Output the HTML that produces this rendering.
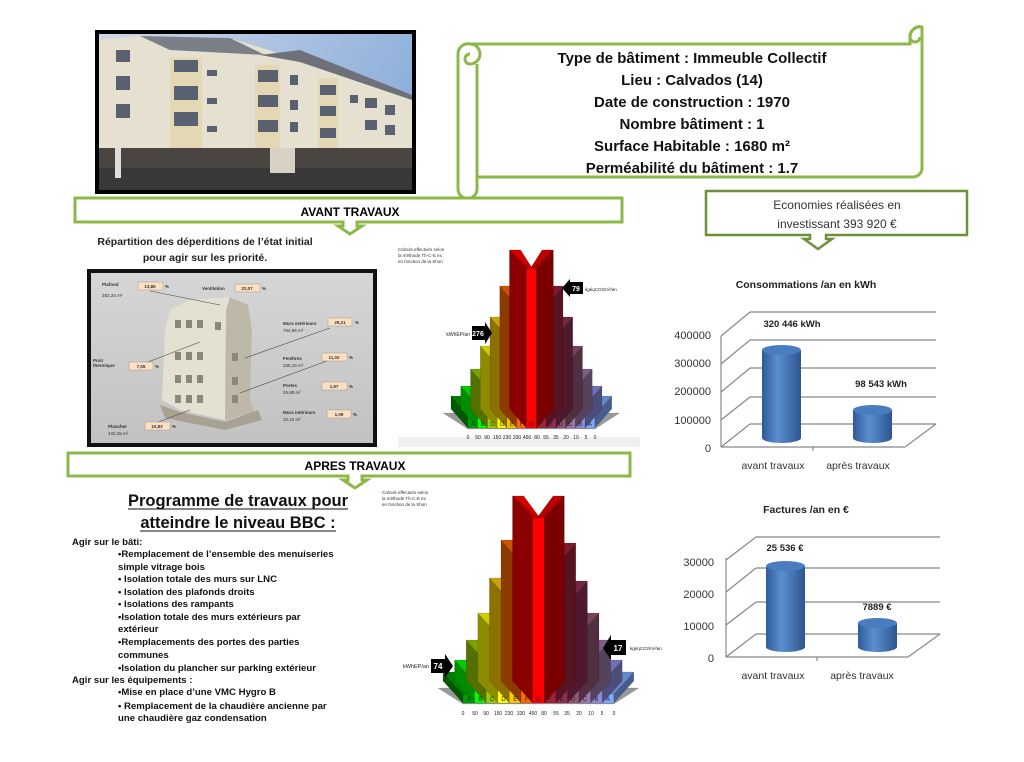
<!DOCTYPE html>
<html><head><meta charset="utf-8">
<style>
html,body{margin:0;padding:0;background:#fff;width:1024px;height:762px;overflow:hidden}
svg{display:block}
text{font-family:"Liberation Sans",sans-serif}
.b{font-weight:bold}
.list{font-family:"Liberation Sans",sans-serif;font-weight:bold;font-size:9.6px;fill:#111}
</style></head>
<body>
<svg id="s" width="1024" height="762" viewBox="0 0 1024 762" xmlns="http://www.w3.org/2000/svg">
<defs>
<linearGradient id="sky" x1="0" y1="0" x2="1" y2="0.3">
<stop offset="0" stop-color="#cfd8e6"/><stop offset="1" stop-color="#8fb0dc"/></linearGradient>
<linearGradient id="cyl" x1="0" y1="0" x2="1" y2="0">
<stop offset="0" stop-color="#2f5a98"/><stop offset="0.4" stop-color="#5b8fd0"/><stop offset="1" stop-color="#2d5590"/></linearGradient>
<linearGradient id="gr" x1="0" y1="0" x2="0" y2="1">
<stop offset="0" stop-color="#d6d6d6"/><stop offset="1" stop-color="#c2c2c2"/></linearGradient>
</defs>

<!-- Photo -->
<rect x="95" y="30" width="321" height="164" fill="#000"/>
<rect x="99" y="34" width="313" height="156" fill="url(#sky)"/>
<polygon points="99,40 140,36 230,38 300,60 412,95 412,170 99,170" fill="#e6e0d0"/>
<polygon points="140,36 230,38 265,55 170,50" fill="#7b7f88"/>
<polygon points="260,55 300,50 412,95 412,100 300,62" fill="#6e717a"/>
<rect x="170" y="58" width="32" height="110" fill="#e4d8b4"/>
<rect x="255" y="65" width="25" height="100" fill="#e4d8b4"/>
<rect x="318" y="78" width="20" height="85" fill="#e4d8b4"/>
<g fill="#5a6170">
<rect x="116" y="50" width="14" height="12"/><rect x="116" y="76" width="14" height="14"/><rect x="116" y="104" width="14" height="14"/>
<rect x="174" y="60" width="24" height="12"/><rect x="174" y="86" width="24" height="14"/><rect x="174" y="112" width="24" height="14"/>
<rect x="207" y="70" width="10" height="6"/><rect x="207" y="98" width="10" height="6"/><rect x="207" y="126" width="10" height="6"/>
<rect x="258" y="70" width="20" height="12"/><rect x="258" y="95" width="20" height="12"/><rect x="258" y="120" width="20" height="12"/>
<rect x="290" y="75" width="8" height="10"/><rect x="290" y="100" width="8" height="10"/><rect x="290" y="122" width="8" height="10"/>
<rect x="320" y="85" width="16" height="10"/><rect x="320" y="106" width="16" height="10"/><rect x="320" y="128" width="16" height="10"/>
<rect x="350" y="95" width="8" height="8"/><rect x="365" y="98" width="12" height="10"/><rect x="385" y="105" width="10" height="10"/><rect x="365" y="120" width="12" height="10"/><rect x="385" y="125" width="10" height="10"/>
</g>
<rect x="99" y="148" width="313" height="22" fill="#4a4540"/>
<rect x="99" y="168" width="313" height="22" fill="#38383a"/>
<rect x="115" y="148" width="6" height="30" fill="#ddd"/><rect x="270" y="148" width="25" height="25" fill="#d8d2c4"/>

<!-- Scroll -->
<path d="M470,44 H910 V37 a10,10 0 0 1 12,-10 V168 a9,9 0 0 1 -9,9 H477 V189 a9,9 0 0 1 -19,0 V54 a10,10 0 0 1 12,-10 Z" fill="#fff" stroke="#8cb84a" stroke-width="3"/>
<path d="M470,44 a10,10 0 0 1 0,20 a5,5 0 0 1 0,-10" fill="none" stroke="#8cb84a" stroke-width="3"/>
<path d="M477,64 V177" fill="none" stroke="#8cb84a" stroke-width="3"/>
<path d="M922,27 a10,10 0 0 0 -12,10 M910,37 a5,5 0 0 0 5,5 a5,5 0 0 0 5,-5" fill="none" stroke="#8cb84a" stroke-width="3"/>
<g class="b" font-size="15" text-anchor="middle" fill="#111">
<text x="692" y="63">Type de bâtiment : Immeuble Collectif</text>
<text x="692" y="85">Lieu : Calvados (14)</text>
<text x="692" y="107">Date de construction : 1970</text>
<text x="692" y="129">Nombre bâtiment : 1</text>
<text x="692" y="151">Surface Habitable :  1680 m²</text>
<text x="692" y="173">Perméabilité du bâtiment : 1.7</text>
</g>

<!-- AVANT banner -->
<path d="M75,198 H622 V222 H357 L357,226 L362,226 L350,234 L338,226 L343,226 L343,222 H75 Z" fill="#fff" stroke="#8cb84a" stroke-width="3"/>
<text x="350" y="216" class="b" font-size="12" text-anchor="middle">AVANT TRAVAUX</text>

<!-- Economies box -->
<path d="M706,191 H967 V235 H826 L826,239 L832,239 L818,249 L804,239 L810,239 L810,235 H706 Z" fill="#fff" stroke="#6f8f3a" stroke-width="2.5"/>
<text x="837" y="209" font-size="12" text-anchor="middle" fill="#333">Economies réalisées en</text>
<text x="837" y="228" font-size="12" text-anchor="middle" fill="#333">investissant 393 920 €</text>

<text x="205" y="245" class="b" font-size="10.5" text-anchor="middle" fill="#222">Répartition des déperditions de l’état initial</text>
<text x="205" y="261" class="b" font-size="10.5" text-anchor="middle" fill="#222">pour  agir sur les priorité.</text>

<!-- Thermal image -->
<rect x="87" y="269" width="290" height="178" fill="#111"/>
<rect x="91" y="273" width="282" height="170" fill="url(#gr)"/>
<polygon points="170,310 190,300 230,297 248,305 252,330 250,400 255,412 225,420 180,410 162,400 165,330" fill="#e4e0d2"/>
<polygon points="230,297 248,305 252,330 250,400 255,412 225,420 226,310" fill="#bdb8a8"/>
<polygon points="160,405 180,412 225,422 258,410 262,420 225,430 165,418" fill="#a8a294"/>
<g fill="#8a8878">
<rect x="175" y="320" width="6" height="8"/><rect x="186" y="320" width="6" height="8"/><rect x="197" y="320" width="6" height="8"/><rect x="215" y="322" width="6" height="8"/>
<rect x="175" y="352" width="6" height="8"/><rect x="186" y="352" width="6" height="8"/><rect x="197" y="352" width="6" height="8"/><rect x="232" y="353" width="6" height="8"/>
<rect x="175" y="375" width="6" height="8"/><rect x="186" y="375" width="6" height="8"/><rect x="197" y="375" width="6" height="8"/><rect x="232" y="377" width="6" height="8"/>
<rect x="175" y="395" width="6" height="8"/><rect x="186" y="395" width="6" height="8"/><rect x="197" y="395" width="6" height="8"/><rect x="232" y="395" width="6" height="8"/>
</g>
<g stroke="#444" stroke-width="0.6">
<line x1="150" y1="291" x2="220" y2="305"/><line x1="135" y1="367" x2="200" y2="342"/>
<line x1="330" y1="328" x2="245" y2="358"/><line x1="335" y1="358" x2="240" y2="393"/>
<line x1="145" y1="427" x2="190" y2="410"/>
</g>
<g font-size="4.5" fill="#333">
<text x="102" y="286" class="b">Plafond</text><text x="102" y="297">382,34 m²</text>
<text x="202" y="290" class="b">Ventilation</text>
<text x="283" y="325" class="b">Murs extérieurs</text><text x="283" y="332">764,96 m²</text>
<text x="93" y="362" class="b">Pont</text><text x="93" y="367" class="b">thermique</text>
<text x="283" y="360" class="b">Fenêtres</text><text x="283" y="367">258,10 m²</text>
<text x="283" y="387" class="b">Portes</text><text x="283" y="394">26,88 m²</text>
<text x="283" y="414" class="b">Murs intérieurs</text><text x="283" y="421">32,16 m²</text>
<text x="108" y="428" class="b">Plancher</text><text x="108" y="435">432,25 m²</text>
</g>
<g fill="#fde0c0" stroke="#999" stroke-width="0.5">
<rect x="138" y="282" width="25" height="8"/><rect x="235" y="284" width="25" height="8"/>
<rect x="328" y="318" width="24" height="8"/><rect x="129" y="362" width="24" height="8"/>
<rect x="322" y="353" width="25" height="8"/><rect x="322" y="382" width="25" height="8"/>
<rect x="327" y="410" width="24" height="8"/><rect x="145" y="422" width="25" height="8"/>
</g>
<g font-size="4.5" fill="#333" text-anchor="middle" class="b">
<text x="150" y="288">13,86</text><text x="247" y="290">22,07</text><text x="340" y="324">29,21</text>
<text x="141" y="368">7,55</text><text x="334" y="359">11,02</text><text x="334" y="388">1,87</text>
<text x="339" y="416">1,09</text><text x="157" y="428">10,83</text>
<text x="167" y="288">%</text><text x="264" y="290">%</text><text x="357" y="324">%</text><text x="157" y="368">%</text>
<text x="351" y="359">%</text><text x="351" y="388">%</text><text x="355" y="416">%</text><text x="174" y="428">%</text>
</g>

<!-- Pyramid areas -->
<rect x="398" y="437" width="242" height="10" fill="#efefef"/>
<g id="p1"></g>
<g id="p2"></g>
<g font-size="4.5" fill="#333">
<text x="398" y="251">Calculs effectués selon</text><text x="398" y="257">la méthode Th-C-E ex</text><text x="398" y="263">en fonction de la Shon</text>
<text x="382" y="494">Calculs effectués selon</text><text x="382" y="500">la méthode Th-C-E ex</text><text x="382" y="506">en fonction de la Shon</text>
</g>
<g font-size="5" fill="#222" text-anchor="middle">
<text x="468" y="439">0</text><text x="478" y="439">50</text><text x="487" y="439">90</text><text x="497" y="439">150</text><text x="507" y="439">230</text><text x="517" y="439">330</text><text x="527" y="439">450</text><text x="537" y="439">80</text><text x="546" y="439">55</text><text x="556" y="439">35</text><text x="566" y="439">20</text><text x="576" y="439">10</text><text x="586" y="439">5</text><text x="595" y="439">0</text>
</g>
<g font-size="5" fill="#222" text-anchor="middle">
<text x="463" y="715">0</text><text x="475" y="715">50</text><text x="486" y="715">90</text><text x="498" y="715">150</text><text x="509" y="715">230</text><text x="521" y="715">330</text><text x="533" y="715">450</text><text x="544" y="715">80</text><text x="556" y="715">55</text><text x="567" y="715">35</text><text x="579" y="715">20</text><text x="591" y="715">10</text><text x="602" y="715">5</text><text x="614" y="715">0</text>
</g>
<g id="letters" font-size="6" fill="#222" text-anchor="middle"></g>

<!-- arrows pyramid 1 -->
<polygon points="472,326 485,326 485,322 492,333 485,344 485,340 472,340" fill="#000"/>
<text x="478" y="336" font-size="7" class="b" fill="#fff" text-anchor="middle">276</text>
<text x="470" y="336" font-size="5" text-anchor="end" fill="#222">kWhEP/an</text>
<polygon points="570,282 570,279 562,288 570,297 570,294 583,294 583,282" fill="#000"/>
<text x="576" y="291" font-size="7" class="b" fill="#fff" text-anchor="middle">79</text>
<text x="585" y="291" font-size="4.5" fill="#222">kgéqCO2/m²/an</text>
<!-- arrows pyramid 2 -->
<polygon points="431,659 445,659 445,654 453,666 445,678 445,673 431,673" fill="#000"/>
<text x="438" y="669" font-size="8" class="b" fill="#fff" text-anchor="middle">74</text>
<text x="429" y="668" font-size="5.5" text-anchor="end" fill="#222">kWhEP/an</text>
<polygon points="611,640 611,635 603,648 611,660 611,655 626,655 626,640" fill="#000"/>
<text x="618" y="651" font-size="8" class="b" fill="#fff" text-anchor="middle">17</text>
<text x="630" y="650" font-size="4.5" fill="#222">kgéqCO2/m²/an</text>

<!-- APRES banner -->
<path d="M68,453 H630 V476 H362 L362,480 L367,480 L355,488 L343,480 L348,480 L348,476 H68 Z" fill="#fff" stroke="#8cb84a" stroke-width="3"/>
<text x="355" y="470" class="b" font-size="12" text-anchor="middle">APRES TRAVAUX</text>

<!-- Programme -->
<text x="238" y="506" class="b" font-size="16.5" text-anchor="middle" fill="#111">Programme de travaux pour</text>
<text x="238" y="528" class="b" font-size="16.5" text-anchor="middle" fill="#111">atteindre le niveau BBC :</text>
<line x1="128" y1="509" x2="348" y2="509" stroke="#111"/>
<line x1="140" y1="531" x2="336" y2="531" stroke="#111"/>
<g class="list">
<text x="72" y="545">Agir sur le bâti:</text>
<text x="118" y="557">•Remplacement de l’ensemble des menuiseries</text>
<text x="118" y="570">simple vitrage bois</text>
<text x="118" y="582">• Isolation totale des murs sur LNC</text>
<text x="118" y="595">• Isolation des plafonds droits</text>
<text x="118" y="607">• Isolations des rampants</text>
<text x="118" y="620">•Isolation totale des murs extérieurs par</text>
<text x="118" y="632">extérieur</text>
<text x="118" y="645">•Remplacements des portes des parties</text>
<text x="118" y="658">communes</text>
<text x="118" y="671">•Isolation du plancher sur parking extérieur</text>
<text x="72" y="683">Agir sur les équipements :</text>
<text x="118" y="695">•Mise en place d’une VMC Hygro B</text>
<text x="118" y="709">• Remplacement de la chaudière ancienne par</text>
<text x="118" y="721">une chaudière gaz condensation</text>
</g>

<!-- Chart 1 -->
<text x="806" y="288" class="b" font-size="10.5" text-anchor="middle" fill="#222">Consommations /an en kWh</text>
<g stroke="#888" stroke-width="1.2" fill="none">
<line x1="750" y1="312" x2="936" y2="312"/><line x1="750" y1="340" x2="936" y2="340"/><line x1="750" y1="368" x2="936" y2="368"/><line x1="750" y1="397" x2="936" y2="397"/><line x1="750" y1="424" x2="936" y2="424"/>
<line x1="721" y1="336" x2="750" y2="312"/><line x1="721" y1="364" x2="750" y2="340"/><line x1="721" y1="392" x2="750" y2="368"/><line x1="721" y1="420" x2="750" y2="397"/><line x1="721" y1="447" x2="750" y2="424"/>
<line x1="721" y1="336" x2="721" y2="447"/><line x1="721" y1="447" x2="905" y2="447"/><line x1="905" y1="447" x2="936" y2="424"/>
<line x1="813" y1="447" x2="813" y2="451"/>
</g>
<g font-size="11" fill="#333" text-anchor="end">
<text x="711" y="339">400000</text><text x="711" y="367">300000</text><text x="711" y="395">200000</text><text x="711" y="424">100000</text><text x="711" y="452">0</text>
</g>
<path d="M762,350 V438 a19.5,5 0 0 0 39,0 V350 Z" fill="url(#cyl)"/><ellipse cx="781.5" cy="350" rx="19.5" ry="5" fill="#4a7cc0"/>
<path d="M853,410 V438 a19.5,5 0 0 0 39,0 V410 Z" fill="url(#cyl)"/><ellipse cx="872.5" cy="410" rx="19.5" ry="5" fill="#4a7cc0"/>
<text x="792" y="327" class="b" font-size="9.5" text-anchor="middle" fill="#222">320 446 kWh</text>
<text x="881" y="387" class="b" font-size="9.5" text-anchor="middle" fill="#222">98 543 kWh</text>
<text x="773" y="469" font-size="10.5" text-anchor="middle" fill="#333">avant travaux</text>
<text x="858" y="469" font-size="10.5" text-anchor="middle" fill="#333">après travaux</text>

<!-- Chart 2 -->
<text x="806" y="513" class="b" font-size="10.5" text-anchor="middle" fill="#222">Factures /an en €</text>
<g stroke="#888" stroke-width="1.2" fill="none">
<line x1="756" y1="537" x2="940" y2="537"/><line x1="756" y1="568" x2="940" y2="568"/><line x1="756" y1="602" x2="940" y2="602"/><line x1="756" y1="634" x2="940" y2="634"/>
<line x1="726" y1="560" x2="756" y2="537"/><line x1="726" y1="592" x2="756" y2="568"/><line x1="726" y1="625" x2="756" y2="602"/><line x1="726" y1="657" x2="756" y2="634"/>
<line x1="726" y1="558" x2="726" y2="657"/><line x1="726" y1="657" x2="908" y2="657"/><line x1="908" y1="657" x2="940" y2="634"/>
<line x1="817" y1="657" x2="817" y2="661"/>
</g>
<g font-size="11" fill="#333" text-anchor="end">
<text x="714" y="566">30000</text><text x="714" y="598">20000</text><text x="714" y="630">10000</text><text x="714" y="662">0</text>
</g>
<path d="M766,566 V647 a19.5,5 0 0 0 39,0 V566 Z" fill="url(#cyl)"/><ellipse cx="785.5" cy="566" rx="19.5" ry="5" fill="#4a7cc0"/>
<path d="M858,623 V647 a19.5,5 0 0 0 39,0 V623 Z" fill="url(#cyl)"/><ellipse cx="877.5" cy="623" rx="19.5" ry="5" fill="#4a7cc0"/>
<text x="785" y="551" class="b" font-size="9.5" text-anchor="middle" fill="#222">25 536 €</text>
<text x="877" y="610" class="b" font-size="9.5" text-anchor="middle" fill="#222">7889 €</text>
<text x="773" y="679" font-size="10.5" text-anchor="middle" fill="#333">avant travaux</text>
<text x="862" y="679" font-size="10.5" text-anchor="middle" fill="#333">après travaux</text>
</svg>
<script>
(function(){
var NS="http://www.w3.org/2000/svg";
var cols=["#00a000","#00ff00","#99cc00","#ffff00","#ffcc00","#ff6a00","#ff0000","#a0223a","#8e2e55","#915575","#9a78a8","#8c8ce0","#80aaff"];
function dk(c,f){var n=parseInt(c.slice(1),16);var r=(n>>16)&255,g=(n>>8)&255,b=n&255;return "rgb("+Math.round(r*f)+","+Math.round(g*f)+","+Math.round(b*f)+")";}
function poly(g,pts,fill){var p=document.createElementNS(NS,"polygon");p.setAttribute("points",pts.map(function(a){return a[0]+","+a[1]}).join(" "));p.setAttribute("fill",fill);p.setAttribute("stroke","rgba(0,0,0,0.25)");p.setAttribute("stroke-width","0.4");g.appendChild(p);}
function pyr(id,x0,w,bot,hs,dx,dy){
 var g=document.getElementById(id);
 poly(g,[[x0-25,bot-15],[x0+13*w+25,bot-15],[x0+13*w,bot+1],[x0,bot+1]],"#9a9a9a");
 var order=[0,12,1,11,2,10,3,9,4,8,5,7,6];
 order.forEach(function(i){
  var x=x0+i*w,t=bot-hs[i],c=cols[i];
  if(i<6){
   poly(g,[[x,t],[x-dx,t-dy],[x-dx,bot-dy],[x,bot]],dk(c,0.55));
   poly(g,[[x,t],[x+w,t],[x+w-dx,t-dy],[x-dx,t-dy]],dk(c,0.8));
  }else if(i>6){
   poly(g,[[x+w,t],[x+w+dx,t-dy],[x+w+dx,bot-dy],[x+w,bot]],dk(c,0.55));
   poly(g,[[x,t],[x+w,t],[x+w+dx,t-dy],[x+dx,t-dy]],dk(c,0.8));
  }else{
   var T=t-dy;
   poly(g,[[x-dx,T],[x-dx+11,T],[x+w/2,t-2],[x+w+dx-11,T],[x+w+dx,T],[x+w+dx,bot-dy],[x-dx,bot-dy]],"#b00000");
   poly(g,[[x-dx,T],[x-dx+11,T],[x+w/2,t-2],[x+w/2,t]],"#d40000");
   poly(g,[[x+w+dx,T],[x+w+dx-11,T],[x+w/2,t-2],[x+w/2,t]],"#c00000");
   poly(g,[[x-dx,T],[x,t],[x,bot],[x-dx,bot-dy]],"#8a0000");
   poly(g,[[x+w+dx,T],[x+w,t],[x+w,bot],[x+w+dx,bot-dy]],"#7a0000");
  }
  poly(g,[[x,t],[x+w,t],[x+w,bot],[x,bot]],c);
 });
 var L=document.getElementById("letters");
 "ABCDEFGFEDCBA".split("").forEach(function(ch,i){var tx=document.createElementNS(NS,"text");tx.setAttribute("x",x0+i*w+w/2);tx.setAttribute("y",bot-2);tx.textContent=ch;L.appendChild(tx);});
}
pyr("p1",468,9.75,428,[13,23,40,63,92,123,159,123,92,63,40,23,13],17,19);
pyr("p2",463,11.6,703,[9,21,41,68,103,141,185,138,100,68,41,21,9],20,22);
})();
</script>
</body></html>
